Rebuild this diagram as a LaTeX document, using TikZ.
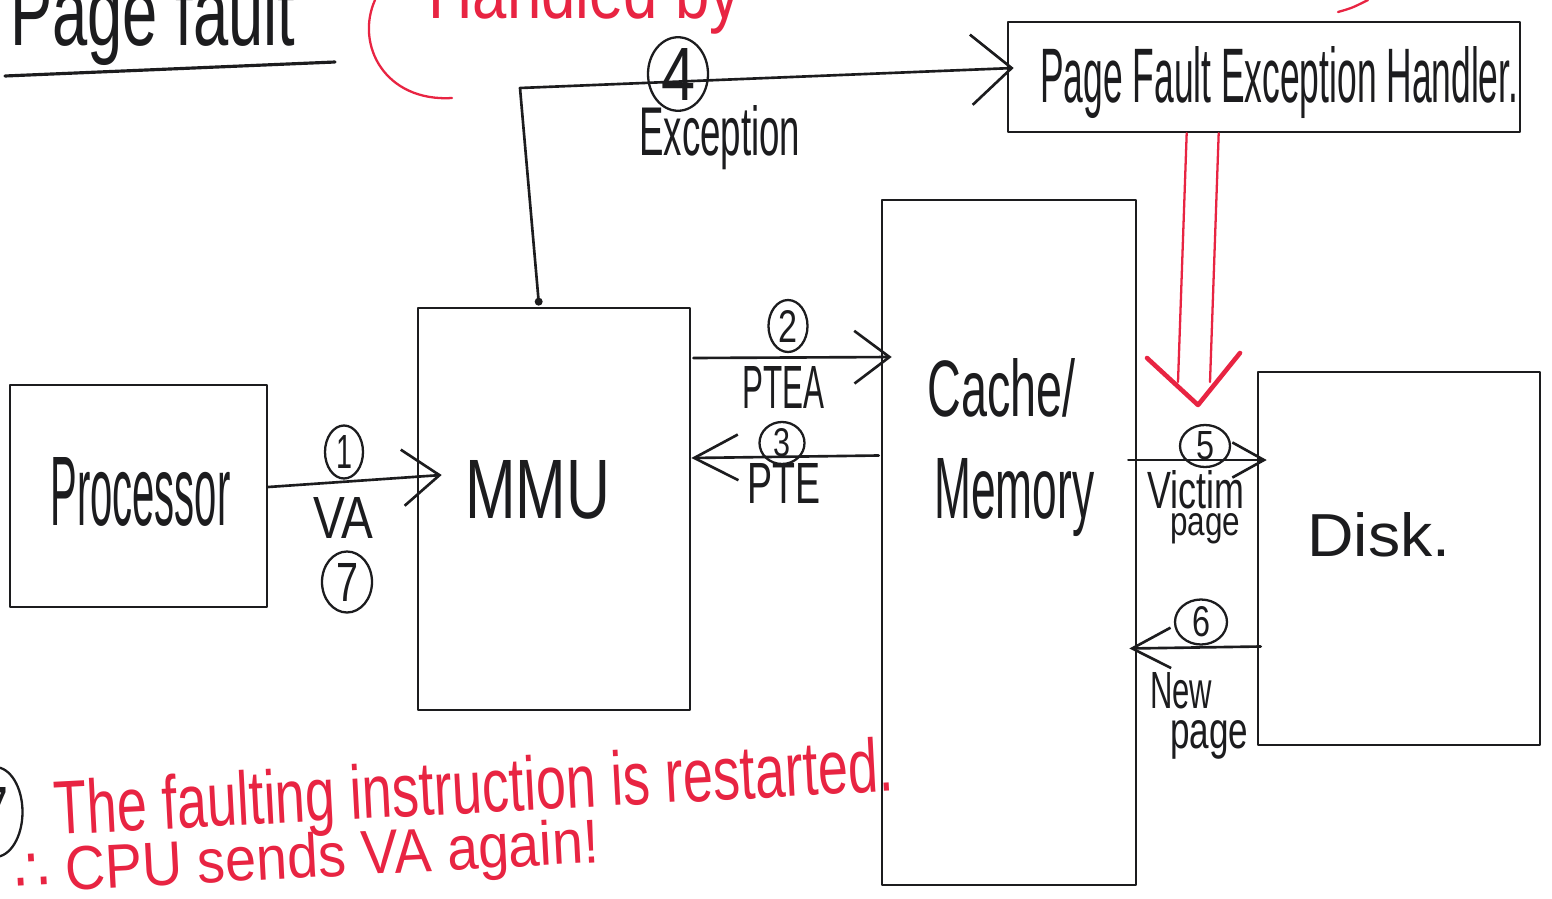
\documentclass[tikz,border=0pt]{standalone}
\usepackage{fontspec}
\setmainfont{Liberation Sans}
\newfontfamily\symfont{DejaVu Sans}
\usepackage{graphicx}
\usetikzlibrary{arrows.meta,shapes.geometric,calc}

\definecolor{inkc}{RGB}{28,28,30}
\definecolor{redc}{RGB}{232,36,66}

% one drawing unit of the sketch
\newlength\pxl
\setlength\pxl{0.02cm}
% text squeezed into a box of given width and height (in drawing units)
\newcommand\hwtext[3]{\resizebox{#1\pxl}{#2\pxl}{#3}}

\tikzset{
  pen/.style={draw=inkc, line width=1.5pt},
  box/.style 2 args={pen, rectangle, inner sep=0pt,
    minimum width=#1*0.02cm, minimum height=#2*0.02cm},
  num/.style 2 args={draw=inkc, line width=1.3pt, ellipse, inner sep=0pt,
    minimum width=#1*0.02cm, minimum height=#2*0.02cm, text=inkc},
  lbl/.style={inner sep=0pt, anchor=base west, text=inkc},
  redlbl/.style={inner sep=0pt, anchor=base west, text=redc, rotate=3},
  flow/.style 2 args={pen, -{Straight Barb[length=#1pt, width=#2pt]}},
  redpen/.style={draw=redc, line width=1.3pt},
}

\begin{document}
\begin{tikzpicture}[x=0.02cm, y=-0.02cm, line cap=round, line join=round]
\useasboundingbox (0,0) rectangle (1552,899);
\fill[white] (0,0) rectangle (1552,899);
\clip (0,0) rectangle (1552,899);

% ---- title and margin notes ----
\node[lbl] (title) at (10,45) {\hwtext{285}{70}{Page fault}};
\draw[pen, line width=1.8pt] (5,76) -- (335,62);
\draw[redpen] (375,0) .. controls (355,45) and (385,102) .. (452,98);
\node[inner sep=0pt, anchor=base west, text=redc] (handled) at (428,18) {\hwtext{312}{55}{Handled by}};
\draw[redpen] (1338,12) .. controls (1352,8) .. (1368,0);

% ---- blocks ----
\node[box={257}{222}] (proc) at (138.5,496) {};
\node[box={272}{402}] (mmu) at (554,509) {};
\node[box={254}{685}] (cache) at (1009,542.5) {};
\node[box={282}{373}] (disk) at (1399,558.5) {};
\node[box={512}{110}] (handler) at (1264,77) {};

% ---- block captions ----
\node[lbl] (tproc) at (50,525) {\hwtext{180}{68}{Processor}};
\node[lbl] (tmmu) at (465,518) {\hwtext{145}{58}{MMU}};
\node[lbl] (tcache) at (927,416) {\hwtext{148}{58}{Cache/}};
\node[lbl] (tmem) at (934,518) {\hwtext{160}{60}{Memory}};
\node[lbl] (tdisk) at (1307,556) {\hwtext{143}{44}{Disk.}};
\node[lbl] (thandler) at (1040,102) {\hwtext{478}{56}{Page Fault Exception Handler.}};

% ---- connectors ----
\coordinate (excCorner) at (520,88);
\draw[flow={21}{32}] ($(proc.east)+(0,-9)$) -- ($(mmu.west)+(25,-34)$);
\draw[flow={20}{30}] ($(mmu.east)+(2,-151)$) -- ($(cache.west)+(11,-185.5)$);
\draw[flow={25}{26}] ($(cache.west)+(-2,-87)$) -- ($(mmu.east)+(0,-51)$);
\draw[flow={23}{40}] ($(mmu.north west)+(122,-5)$) -- (excCorner) -- ($(handler.west)+(7,-9)$);
\fill[inkc] ($(mmu.north west)+(122,-5)$) circle[radius=4];
\draw[flow={18}{20}] ($(cache.east)+(-9,-82.5)$) -- ($(disk.west)+(10,-98.5)$);
\draw[flow={22}{23}] ($(disk.west)+(4,88)$) -- ($(cache.east)+(-8,106)$);

% handler hands control to the page swap (red double arrow)
\coordinate (redTip) at (1198,405);
\draw[redpen] ($(handler.south west)+(180,0)$) -- (1178,382);
\draw[redpen] ($(handler.south west)+(212,0)$) -- (1210,382);
\draw[redpen, line width=2.6pt] (1147,358) -- (redTip) -- (1240,353);

% ---- connector labels ----
\node[num={38}{53}] (c1) at (344,452) {\hwtext{16}{33}{1}};
\node[lbl] (tva) at (313,538) {\hwtext{60}{41}{VA}};
\node[num={50}{61}] (c7) at (347,582) {\hwtext{22}{38}{7}};
\node[num={39}{52}] (c2) at (788,326) {\hwtext{19}{32}{2}};
\node[lbl] (tptea) at (742,408) {\hwtext{82}{42}{PTEA}};
\node[num={45}{42}] (c3) at (782,443) {\hwtext{17}{28}{3}};
\node[lbl] (tpte) at (747,503) {\hwtext{73}{40}{PTE}};
\node[num={60}{68}] (c4) at (678,74) {\hwtext{34}{52}{4}};
\node[lbl] (texc) at (639,155) {\hwtext{161}{50}{Exception}};
\node[num={50}{42}] (c5) at (1205,446) {\hwtext{18}{28}{5}};
\node[lbl] (tvic) at (1147,508) {\hwtext{97}{38}{Victim}};
\node[lbl] (tvpage) at (1170,535) {\hwtext{70}{22}{page}};
\node[num={52}{45}] (c6) at (1201,622) {\hwtext{18}{30}{6}};
\node[lbl] (tnew) at (1150,708) {\hwtext{62}{36}{New}};
\node[lbl] (tnpage) at (1170,748) {\hwtext{78}{28}{page}};

% ---- red footnote ----
\node[num={55}{90}] (c7b) at (-5,812) {\hwtext{28}{50}{7}};
\node[redlbl] (note1) at (55,835) {\hwtext{840}{55}{The faulting instruction is restarted.}};
\node[redlbl] (note2) at (15,893) {\hwtext{585}{45}{{\symfont ∴} CPU sends VA again!}};
\end{tikzpicture}
\end{document}
